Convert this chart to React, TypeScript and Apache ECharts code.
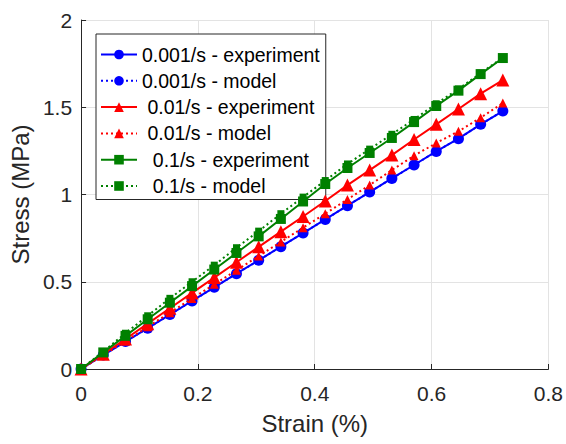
import React, { useEffect, useRef } from "react";
import * as echarts from "echarts";

const strain = [0, 0.038, 0.076, 0.114, 0.152, 0.19, 0.228, 0.266, 0.304, 0.342, 0.38, 0.418, 0.456, 0.494, 0.532, 0.57, 0.608, 0.646, 0.684, 0.722];

const blueExp = [0, 0.08, 0.157, 0.234, 0.312, 0.39, 0.468, 0.546, 0.623, 0.701, 0.779, 0.857, 0.936, 1.014, 1.092, 1.169, 1.247, 1.32, 1.402, 1.478];
const blueModel = [0, 0.08, 0.157, 0.234, 0.312, 0.39, 0.468, 0.546, 0.623, 0.701, 0.779, 0.857, 0.936, 1.014, 1.092, 1.169, 1.247, 1.32, 1.402, 1.478];
const redExp = [0, 0.085, 0.172, 0.26, 0.348, 0.436, 0.524, 0.612, 0.7, 0.787, 0.874, 0.963, 1.054, 1.14, 1.226, 1.315, 1.402, 1.49, 1.578, 1.656];
const redModel = [0, 0.08, 0.16, 0.242, 0.323, 0.404, 0.485, 0.566, 0.647, 0.728, 0.81, 0.89, 0.972, 1.054, 1.14, 1.222, 1.295, 1.362, 1.44, 1.524];
const greenExp = [0, 0.095, 0.19, 0.285, 0.38, 0.475, 0.57, 0.665, 0.76, 0.86, 0.96, 1.06, 1.152, 1.238, 1.324, 1.415, 1.507, 1.595, 1.69, 1.782];
const greenModel = [0, 0.1, 0.205, 0.305, 0.405, 0.5, 0.595, 0.695, 0.79, 0.89, 0.985, 1.08, 1.175, 1.26, 1.345, 1.43, 1.52, 1.605, 1.695, 1.785];

const names = [
  "0.001/s - experiment",
  "0.001/s - model",
  " 0.01/s - experiment",
  " 0.01/s - model",
  "  0.1/s - experiment",
  "  0.1/s - model",
];

const pair = (ys: number[]) => strain.map((x, i) => [x, ys[i]]);

export default function App() {
  const ref = useRef<HTMLDivElement>(null);
  useEffect(() => {
    if (!ref.current) return;
    const chart = echarts.init(ref.current, null, { renderer: "svg" });
    const font = "'Liberation Sans', Arial, Helvetica, sans-serif";
    const axisColor = "#262626";
    const mk = (name: string, data: number[], color: string, symbol: string, size: number, dotted: boolean, z: number) => ({
      name,
      type: "line",
      data: pair(data),
      symbol,
      symbolSize: size,
      showSymbol: true,
      z,
      lineStyle: { color, width: 2, type: dotted ? [2, 3] : "solid" },
      itemStyle: { color, borderWidth: 0 },
      emphasis: { disabled: true },
    });
    chart.setOption({
      animation: false,
      backgroundColor: "#ffffff",
      textStyle: { fontFamily: font },
      grid: { left: 80, top: 20, right: 15, bottom: 75, containLabel: false },
      legend: {
        show: true,
        orient: "vertical",
        left: 96,
        top: 34,
        data: names,
        itemWidth: 36,
        itemHeight: 12,
        itemGap: 6.3,
        padding: [10.5, 6, 3.5, 4],
        backgroundColor: "#ffffff",
        borderColor: "#262626",
        borderWidth: 1,
        borderRadius: 0,
        textStyle: { fontFamily: font, fontSize: 19.5, color: "#000000", lineHeight: 19 },
        selectedMode: false,
      },
      xAxis: {
        type: "value",
        min: 0,
        max: 0.8,
        interval: 0.2,
        name: "Strain (%)",
        nameLocation: "middle",
        nameGap: 42,
        nameTextStyle: { fontFamily: font, fontSize: 24, color: axisColor },
        axisLine: { show: true, lineStyle: { color: axisColor, width: 1 } },
        axisTick: { show: true, inside: true, length: 5, lineStyle: { color: axisColor } },
        axisLabel: { fontFamily: font, fontSize: 21, color: axisColor, margin: 14 },
        splitLine: { show: true, lineStyle: { color: "#e3e3e3", width: 1 } },
      },
      yAxis: {
        type: "value",
        min: 0,
        max: 2,
        interval: 0.5,
        name: "Stress (MPa)",
        nameLocation: "middle",
        nameGap: 46,
        nameRotate: 90,
        nameTextStyle: { fontFamily: font, fontSize: 24, color: axisColor },
        axisLine: { show: true, lineStyle: { color: axisColor, width: 1 } },
        axisTick: { show: true, inside: true, length: 5, lineStyle: { color: axisColor } },
        axisLabel: { fontFamily: font, fontSize: 21, color: axisColor, margin: 9 },
        splitLine: { show: true, lineStyle: { color: "#e3e3e3", width: 1 } },
      },
      series: [
        mk(names[0], blueExp, "#0000ff", "circle", 11, false, 2),
        mk(names[1], blueModel, "#0000ff", "circle", 7, true, 3),
        mk(names[2], redExp, "#ff0000", "triangle", 13, false, 4),
        mk(names[3], redModel, "#ff0000", "triangle", 9, true, 5),
        mk(names[4], greenExp, "#008000", "rect", 10, false, 6),
        mk(names[5], greenModel, "#008000", "rect", 7, true, 7),
      ],
    });
    return () => chart.dispose();
  }, []);
  return (
    <div
      ref={ref}
      style={{ position: "fixed", left: 0, top: 0, width: 566, height: 444, background: "#fff" }}
    />
  );
}
